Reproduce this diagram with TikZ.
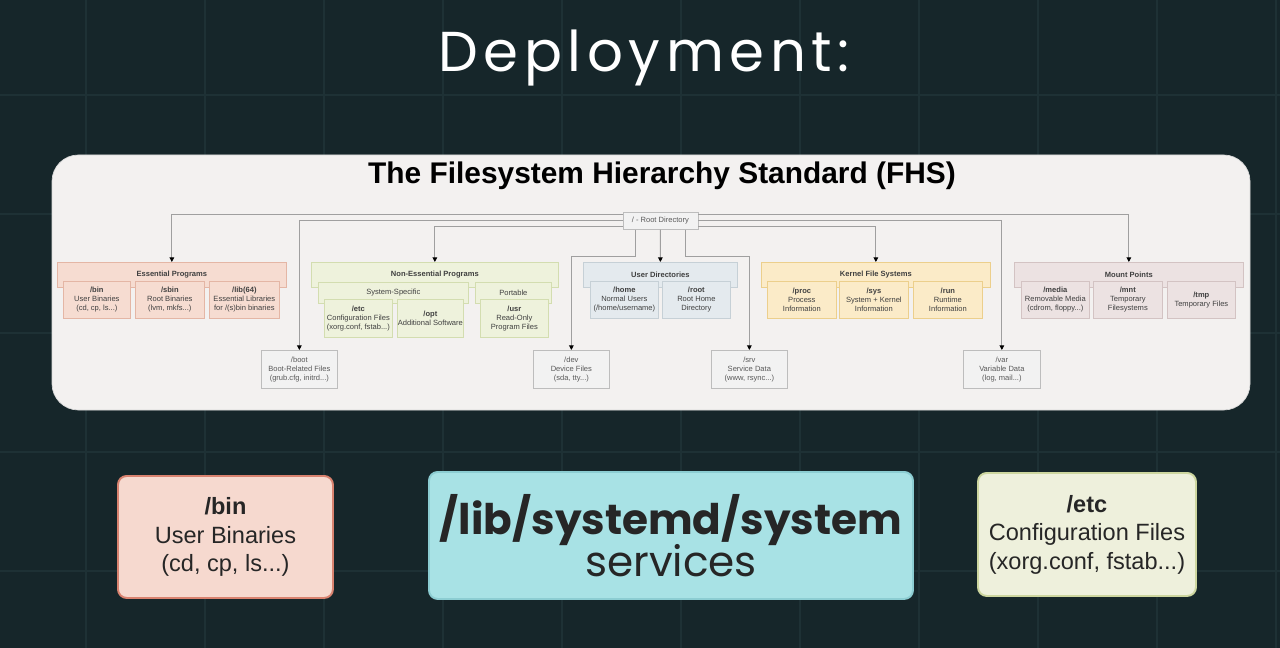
\documentclass[tikz,border=0pt]{standalone}
\usepackage{fontspec}
\setmainfont{Liberation Sans}
\newfontfamily\popfont{Poppins}
\newfontfamily\popwide[LetterSpace=10]{Poppins}
\usetikzlibrary{calc,arrows.meta}

\definecolor{bgdark}{HTML}{16262A}
\definecolor{gridc}{HTML}{1E3135}
\definecolor{panelc}{HTML}{F3F1F0}
\definecolor{essfill}{HTML}{F6DCD1}
\definecolor{essdraw}{HTML}{E4B6A5}
\definecolor{nonfill}{HTML}{EEF2DC}
\definecolor{nondraw}{HTML}{D3DDB0}
\definecolor{usrfill}{HTML}{E4EAEE}
\definecolor{usrdraw}{HTML}{C6D0D6}
\definecolor{kerfill}{HTML}{FBEBC8}
\definecolor{kerdraw}{HTML}{ECCF8C}
\definecolor{mntfill}{HTML}{ECE2E2}
\definecolor{mntdraw}{HTML}{D3C3C3}
\definecolor{plainfill}{HTML}{F2F2F2}
\definecolor{plaindraw}{HTML}{BDBDBD}
\definecolor{binfill}{HTML}{F6D9CF}
\definecolor{bindraw}{HTML}{D9826F}
\definecolor{sysdfill}{HTML}{A8E2E5}
\definecolor{sysddraw}{HTML}{8CCDD2}
\definecolor{etcfill}{HTML}{EEF0DC}
\definecolor{etcdraw}{HTML}{CDD69F}

\def\pxu{0.02cm}

\tikzset{
  box/.style={draw, line width=0.4pt, anchor=north west, inner sep=0pt, align=center,
    font=\fontsize{4.3}{5.1}\selectfont, text=black!75},
  ess/.style={box, fill=essfill, draw=essdraw},
  non/.style={box, fill=nonfill, draw=nondraw},
  usr/.style={box, fill=usrfill, draw=usrdraw},
  ker/.style={box, fill=kerfill, draw=kerdraw},
  mnt/.style={box, fill=mntfill, draw=mntdraw},
  plain/.style={box, fill=plainfill, draw=plaindraw, text=black!65},
  conn/.style={draw=gray!75, line width=0.5pt, -{Triangle[length=2.6pt,width=2.6pt,color=black]}},
  bigbox/.style={draw, line width=1.1pt, rounded corners=5pt, anchor=north west, inner sep=0pt, align=center},
  gridline/.style={gridc, line width=0.6pt},
}

\begin{document}
\begin{tikzpicture}[x=0.02cm, y=-0.02cm]
\useasboundingbox (0,0) rectangle (1280,648);
\fill[bgdark] (0,0) rectangle (1280,648);
\foreach \gx in {86,205,...,1280} \draw[gridline] (\gx,0) -- (\gx,648);
\foreach \gy in {95,214,...,648} \draw[gridline] (0,\gy) -- (1280,\gy);

\node[white, anchor=base, font=\popwide\fontsize{32}{36}\selectfont] (title) at (644,72) {Deployment:};

% FHS panel
\draw[draw=gray!30, fill=panelc, rounded corners=15pt] (52,155) rectangle (1250,410);
\node[font=\bfseries\fontsize{17}{20}\selectfont] (fhs) at (662,176) {The Filesystem Hierarchy Standard (FHS)};

\node[plain, minimum width=75*\pxu, minimum height=17*\pxu] (root) at (622.5,212) {/ - Root Directory};

% essential programs
\node[ess, minimum width=229*\pxu, minimum height=25*\pxu] (ess) at (57,262) {\textbf{Essential Programs}};
\node[ess, minimum width=67*\pxu, minimum height=37*\pxu] (bin) at (63,281) {\textbf{/bin}\\User Binaries\\(cd, cp, ls...)};
\node[ess, minimum width=69*\pxu, minimum height=37*\pxu] (sbin) at (135,281) {\textbf{/sbin}\\Root Binaries\\(lvm, mkfs...)};
\node[ess, minimum width=70*\pxu, minimum height=37*\pxu] (lib) at (209,281) {\textbf{/lib(64)}\\Essential Libraries\\for /(s)bin binaries};

% non-essential programs
\node[non, minimum width=247*\pxu, minimum height=25*\pxu] (noness) at (311,262) {\textbf{Non-Essential Programs}};
\node[non, minimum width=150*\pxu, minimum height=21*\pxu] (sysspec) at (318,282) {System-Specific};
\node[non, minimum width=76*\pxu, minimum height=21*\pxu] (portable) at (475,282) {Portable};
\node[non, minimum width=68*\pxu, minimum height=38*\pxu] (etc) at (324,299) {\textbf{/etc}\\Configuration Files\\(xorg.conf, fstab...)};
\node[non, minimum width=66*\pxu, minimum height=38*\pxu] (opt) at (397,299) {\textbf{/opt}\\Additional Software};
\node[non, minimum width=68*\pxu, minimum height=38*\pxu] (usr) at (480,299) {\textbf{/usr}\\Read-Only\\Program Files};

% user directories
\node[usr, minimum width=154*\pxu, minimum height=25*\pxu] (users) at (583,262) {\textbf{User Directories}};
\node[usr, minimum width=68*\pxu, minimum height=37*\pxu] (home) at (590,281) {\textbf{/home}\\Normal Users\\(/home/username)};
\node[usr, minimum width=68*\pxu, minimum height=37*\pxu] (roothome) at (662,281) {\textbf{/root}\\Root Home\\Directory};

% kernel file systems
\node[ker, minimum width=229*\pxu, minimum height=25*\pxu] (kern) at (761,262) {\textbf{Kernel File Systems}};
\node[ker, minimum width=69*\pxu, minimum height=37*\pxu] (proc) at (767,281) {\textbf{/proc}\\Process\\Information};
\node[ker, minimum width=69*\pxu, minimum height=37*\pxu] (sys) at (839,281) {\textbf{/sys}\\System + Kernel\\Information};
\node[ker, minimum width=69*\pxu, minimum height=37*\pxu] (run) at (913,281) {\textbf{/run}\\Runtime\\Information};

% mount points
\node[mnt, minimum width=229*\pxu, minimum height=25*\pxu] (mount) at (1014,262) {\textbf{Mount Points}};
\node[mnt, minimum width=68*\pxu, minimum height=37*\pxu] (media) at (1021,281) {\textbf{/media}\\Removable Media\\(cdrom, floppy...)};
\node[mnt, minimum width=69*\pxu, minimum height=37*\pxu] (mnt) at (1093,281) {\textbf{/mnt}\\Temporary\\Filesystems};
\node[mnt, minimum width=68*\pxu, minimum height=37*\pxu] (tmp) at (1167,281) {\textbf{/tmp}\\Temporary Files};

% single directories
\node[plain, minimum width=76*\pxu, minimum height=38*\pxu] (boot) at (261,350) {/boot\\Boot-Related Files\\(grub.cfg, initrd...)};
\node[plain, minimum width=76*\pxu, minimum height=38*\pxu] (dev) at (533,350) {/dev\\Device Files\\(sda, tty...)};
\node[plain, minimum width=76*\pxu, minimum height=38*\pxu] (srv) at (711,350) {/srv\\Service Data\\(www, rsync...)};
\node[plain, minimum width=77*\pxu, minimum height=38*\pxu] (var) at (963,350) {/var\\Variable Data\\(log, mail...)};

% connectors
\coordinate (lowbus) at (0,256);
\draw[conn] ($(root.west)+(0,-6)$) -| (ess.north);
\draw[conn] (root.west) -| (boot.north);
\draw[conn] ($(root.west)+(0,6)$) -| (noness.north);
\draw[conn] ($(root.east)+(0,-6)$) -| (mount.north);
\draw[conn] (root.east) -| (var.north);
\draw[conn] ($(root.east)+(0,6)$) -| (kern.north);
\draw[conn] ($(root.south)+(-25,0)$) |- (dev.north |- lowbus) -- (dev.north);
\draw[conn] (root.south) -- (users.north);
\draw[conn] ($(root.south)+(25,0)$) |- (srv.north |- lowbus) -- (srv.north);

% deployment boxes
\node[bigbox, fill=binfill, draw=bindraw, text=black!85, font=\fontsize{13.4}{16.2}\selectfont,
  minimum width=215*\pxu, minimum height=122*\pxu] (bbin) at (117,475) {\textbf{/bin}\\User Binaries\\(cd, cp, ls...)};
\node[bigbox, fill=sysdfill, draw=sysddraw, text=black!85, font=\popfont\fontsize{24}{20}\selectfont,
  minimum width=484*\pxu, minimum height=127*\pxu] (bsysd) at (428,471) {\textbf{/lib/systemd/system}\\[-2pt]services};
\node[bigbox, fill=etcfill, draw=etcdraw, text=black!85, font=\fontsize{13.4}{16.2}\selectfont,
  minimum width=218*\pxu, minimum height=123*\pxu] (betc) at (977,472) {\textbf{/etc}\\Configuration Files\\(xorg.conf, fstab...)};
\end{tikzpicture}
\end{document}
